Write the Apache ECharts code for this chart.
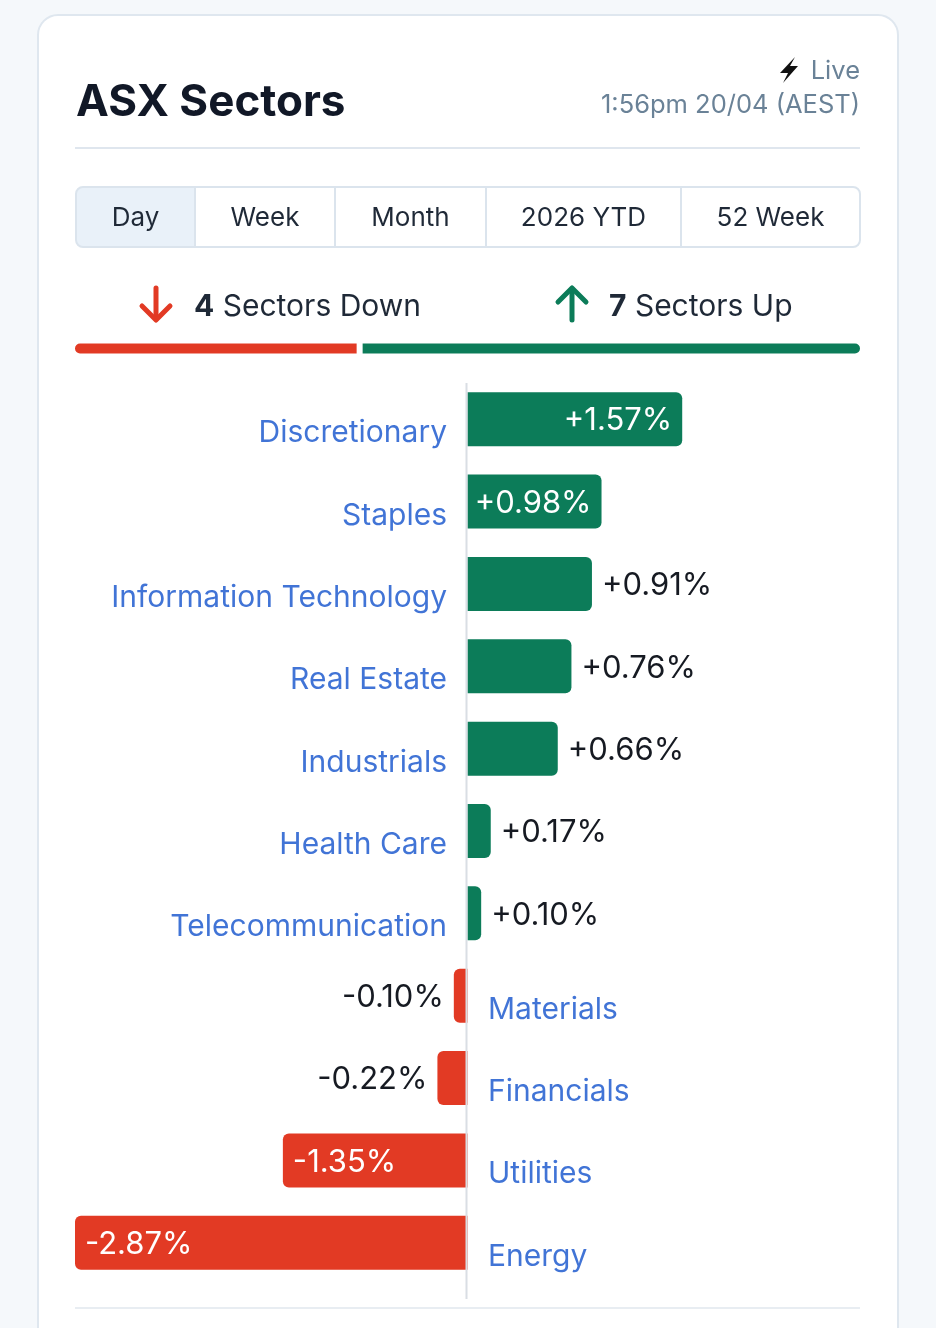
<!DOCTYPE html>
<html lang="en">
<head>
<meta charset="UTF-8">
<title>ASX Sectors</title>
<script src="https://cdn.jsdelivr.net/npm/echarts@6/dist/echarts.min.js"></script>
<style>
  html, body { margin: 0; padding: 0; background: #f5f8fb; }
  #main { width: 936px; height: 1328px; }
</style>
</head>
<body>
<div id="main"></div>
<script>
// sector moves for the day (%)
const sectors = ['Discretionary', 'Staples', 'Information Technology', 'Real Estate', 'Industrials',
  'Health Care', 'Telecommunication', 'Materials', 'Financials', 'Utilities', 'Energy'];
const changes = [1.57, 0.98, 0.91, 0.76, 0.66, 0.17, 0.10, -0.10, -0.22, -1.35, -2.87];
const periods = ['Day', 'Week', 'Month', '2026 YTD', '52 Week'];
const liveTime = '1:56pm 20/04 (AEST)';

const GREEN = '#0c7c59';
const RED = '#e23a24';
const FONT = 'Inter, "Noto Sans", sans-serif';

const downCount = changes.filter(v => v < 0).length;
const upCount = changes.filter(v => v >= 0).length;
const ext = Math.max(...changes.map(v => Math.abs(v)));

function fmt(v) {
  return (v >= 0 ? '+' : '') + v.toFixed(2) + '%';
}

// bars wide enough get the value inside, the rest outside
let barData = changes.map(function (v) {
  let inside = Math.abs(v) > 0.95;
  let pos = v >= 0;
  return {
    value: v,
    itemStyle: {
      color: pos ? GREEN : RED,
      borderRadius: pos ? [0, 6, 6, 0] : [6, 0, 0, 6]
    },
    label: {
      position: inside ? (pos ? 'insideRight' : 'insideLeft') : (pos ? 'right' : 'left'),
      distance: 10,
      color: inside ? '#ffffff' : '#161a22'
    }
  };
});

let nameData = sectors.map(function (s, i) {
  return {
    value: [0, i],
    label: {position: changes[i] >= 0 ? 'left' : 'right'}
  };
});

// tab boxes (layout only)
let tabEdges = [76, 195, 335, 486, 681, 860];
let tabGraphics = [];
tabGraphics.push({
  type: 'rect', z: -5,
  shape: {x: 76, y: 187, width: 119, height: 60, r: [7, 0, 0, 7]},
  style: {fill: '#e9f1f9'}
});
tabGraphics.push({
  type: 'rect', z: -4,
  shape: {x: 76, y: 187, width: 784, height: 60, r: 7},
  style: {fill: 'none', stroke: '#dbe4ed', lineWidth: 2}
});
for (let i = 1; i < tabEdges.length - 1; i++) {
  tabGraphics.push({
    type: 'line', z: -4,
    shape: {x1: tabEdges[i], y1: 188, x2: tabEdges[i], y2: 246},
    style: {stroke: '#dbe4ed', lineWidth: 2}
  });
}
periods.forEach(function (p, i) {
  tabGraphics.push({
    type: 'text',
    x: (tabEdges[i] + tabEdges[i + 1]) / 2, y: 218,
    style: {
      text: p, fill: '#1f2937', font: '26px ' + FONT,
      textAlign: 'center', textVerticalAlign: 'middle'
    }
  });
});

let chart = echarts.init(document.getElementById('main'));
let option = {
  backgroundColor: '#f5f8fb',
  animation: false,
  textStyle: {fontFamily: FONT},
  grid: [
    {left: 75, right: 76, top: 378, bottom: 44},
    {left: 72, right: 73, top: 340.5, height: 16}
  ],
  xAxis: [
    {type: 'value', gridIndex: 0, min: -ext, max: ext, show: false},
    {type: 'value', gridIndex: 1, min: 0, max: downCount + upCount, show: false}
  ],
  yAxis: [
    {type: 'category', gridIndex: 0, data: sectors, inverse: true, show: false},
    {type: 'category', gridIndex: 1, data: [''], show: false}
  ],
  series: [
    {
      name: 'Change',
      type: 'bar',
      xAxisIndex: 0, yAxisIndex: 0,
      barWidth: 54,
      data: barData,
      label: {
        show: true,
        fontSize: 31,
        fontFamily: FONT,
        offset: [0, 2],
        formatter: p => fmt(p.value)
      }
    },
    {
      name: 'Sector',
      type: 'scatter',
      xAxisIndex: 0, yAxisIndex: 0,
      symbolSize: 1,
      itemStyle: {color: 'rgba(0,0,0,0)'},
      data: nameData,
      label: {
        show: true,
        distance: 20,
        offset: [0, 14],
        fontSize: 30,
        fontFamily: FONT,
        color: '#1251cc',
        formatter: p => sectors[p.value[1]]
      },
      z: 5
    },
    {
      name: 'Down',
      type: 'bar',
      xAxisIndex: 1, yAxisIndex: 1,
      stack: 'split',
      barWidth: 16,
      data: [downCount],
      itemStyle: {color: RED, borderColor: '#ffffff', borderWidth: 3, borderRadius: [8, 0, 0, 8]}
    },
    {
      name: 'Up',
      type: 'bar',
      xAxisIndex: 1, yAxisIndex: 1,
      stack: 'split',
      barWidth: 16,
      data: [upCount],
      itemStyle: {color: GREEN, borderColor: '#ffffff', borderWidth: 3, borderRadius: [0, 8, 8, 0]}
    }
  ],
  graphic: [
    // card
    {
      type: 'rect', z: -10,
      shape: {x: 38, y: 15, width: 860, height: 1360, r: 20},
      style: {fill: '#ffffff', stroke: '#dfe7ef', lineWidth: 2}
    },
    {
      type: 'text', x: 76, y: 103,
      style: {
        text: 'ASX Sectors', fill: '#111827', font: 'bold 44px ' + FONT,
        textAlign: 'left', textVerticalAlign: 'middle'
      }
    },
    // lightning bolt
    {
      type: 'polygon',
      shape: {points: [[795, 57], [780, 73], [788, 73], [783, 83], [798, 66], [790, 66]]},
      style: {fill: '#111111'}
    },
    {
      type: 'text', x: 860, y: 71,
      style: {
        text: 'Live', fill: '#6a8297', font: '25.5px ' + FONT,
        textAlign: 'right', textVerticalAlign: 'middle'
      }
    },
    {
      type: 'text', x: 860, y: 105,
      style: {
        text: liveTime, fill: '#6a8297', font: '25.5px ' + FONT,
        textAlign: 'right', textVerticalAlign: 'middle'
      }
    },
    {
      type: 'line',
      shape: {x1: 75, y1: 148, x2: 860, y2: 148},
      style: {stroke: '#dfe6ee', lineWidth: 2}
    },
    ...tabGraphics,
    // down arrow
    {
      type: 'polyline',
      shape: {points: [[156, 288], [156, 319]]},
      style: {stroke: RED, lineWidth: 5, lineCap: 'round', fill: 'none'}
    },
    {
      type: 'polyline',
      shape: {points: [[142, 306], [156, 320], [170, 306]]},
      style: {stroke: RED, lineWidth: 5, lineCap: 'round', lineJoin: 'round', fill: 'none'}
    },
    {
      type: 'text', x: 194, y: 307,
      style: {
        text: '{b|' + downCount + '} Sectors Down', fill: '#1f2937', font: '30px ' + FONT,
        textAlign: 'left', textVerticalAlign: 'middle',
        rich: {b: {fontWeight: 'bold', fontSize: 30, fontFamily: FONT, fill: '#1f2937'}}
      }
    },
    // up arrow
    {
      type: 'polyline',
      shape: {points: [[572, 289], [572, 320]]},
      style: {stroke: GREEN, lineWidth: 5, lineCap: 'round', fill: 'none'}
    },
    {
      type: 'polyline',
      shape: {points: [[558, 302], [572, 288], [586, 302]]},
      style: {stroke: GREEN, lineWidth: 5, lineCap: 'round', lineJoin: 'round', fill: 'none'}
    },
    {
      type: 'text', x: 609, y: 307,
      style: {
        text: '{b|' + upCount + '} Sectors Up', fill: '#1f2937', font: '30px ' + FONT,
        textAlign: 'left', textVerticalAlign: 'middle',
        rich: {b: {fontWeight: 'bold', fontSize: 30, fontFamily: FONT, fill: '#1f2937'}}
      }
    },
    // zero line and bottom rule
    {
      type: 'line', z: 10,
      shape: {x1: 466.5, y1: 383, x2: 466.5, y2: 1299},
      style: {stroke: '#d9dee4', lineWidth: 2}
    },
    {
      type: 'line',
      shape: {x1: 75, y1: 1308, x2: 860, y2: 1308},
      style: {stroke: '#e8edf2', lineWidth: 2}
    }
  ]
};
chart.setOption(option);
</script>
</body>
</html>
